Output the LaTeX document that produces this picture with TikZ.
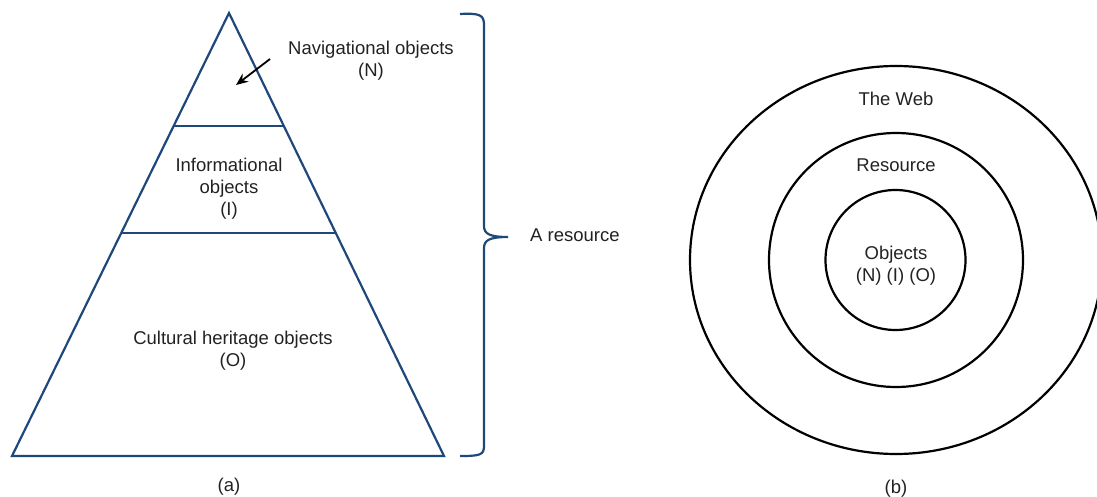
\documentclass[tikz,border=0pt]{standalone}
\usepackage{fontspec}
\setmainfont{Liberation Sans}
\usetikzlibrary{arrows.meta}
\definecolor{tblue}{RGB}{30,72,122}
\definecolor{txt}{RGB}{34,34,34}
\begin{document}
\begin{tikzpicture}[x=1pt,y=-1pt,
  lbl/.style={text=txt,font=\fontsize{18.5}{22}\selectfont,align=center,inner sep=0pt},
  tri/.style={draw=tblue,line width=2.2pt,line join=miter},
  ring/.style={draw=black,line width=2.2pt}]
\useasboundingbox (0,0) rectangle (1097,497);
\clip (0,0) rectangle (1097,497);
% pyramid
\coordinate (apex) at (229,13);
\coordinate (bl) at (12,456);
\coordinate (br) at (444,456);
\draw[tri] (apex) -- (bl) -- (br) -- cycle;
\coordinate (l1) at (173.6,126);
\coordinate (r1) at (283.8,126);
\coordinate (l2) at (121.2,233);
\coordinate (r2) at (335.8,233);
\draw[tri] (l1) -- (r1);
\draw[tri] (l2) -- (r2);
% labels (anchor=base is the baseline of the last line)
\node[lbl,anchor=base] (nav) at (371,77) {Navigational objects\\(N)};
\node[lbl,anchor=base] (inf) at (229,215) {Informational\\objects\\(I)};
\node[lbl,anchor=base] (cul) at (233,366) {Cultural heritage objects\\(O)};
\coordinate (arrS) at (270,59);
\coordinate (arrE) at (236,85);
\draw[line width=1.8pt,-{Stealth[length=12pt,width=10pt]}] (arrS) -- (arrE);
% brace
\draw[draw=tblue,line width=2.2pt]
  (460,14) .. controls (480,13) and (484,15) .. (484,25) -- (484,226)
  .. controls (484,234) and (490,237) .. (508,237)
  .. controls (490,237) and (484,240) .. (484,248) -- (484,446)
  .. controls (484,455) and (480,456) .. (460,456);
\coordinate (tip) at (508,237);
\node[lbl,anchor=base west] (res) at (530,241) {A resource};
\node[lbl,anchor=base] (capa) at (229,491) {(a)};
% circles
\draw[ring] (896,260) ellipse [x radius=206, y radius=194];
\draw[ring] (896,260) circle [radius=127];
\draw[ring] (895.5,260) circle [radius=70];
\node[lbl,anchor=base] (web) at (896,106) {The Web};
\node[lbl,anchor=base] (resc) at (896,172) {Resource};
\node[lbl,anchor=base] (obj) at (896,281) {Objects\\(N) (I) (O)};
\node[lbl,anchor=base] (capb) at (896,493) {(b)};
\end{tikzpicture}
\end{document}
